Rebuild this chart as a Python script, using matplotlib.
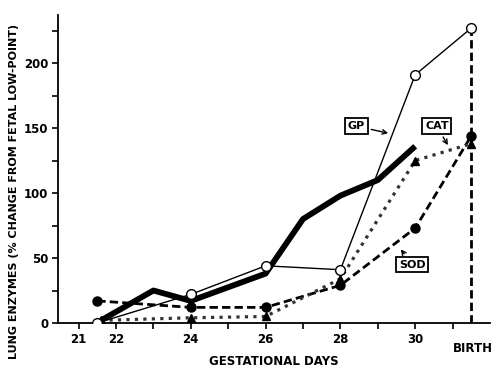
import numpy as np
import matplotlib
matplotlib.use('Agg')
import matplotlib.pyplot as plt

GP_DAYS = [21.5, 24, 26, 28, 30, 31.5]
GP_VALS = [0, 22, 44, 41, 191, 227]

THICK_DAYS = [21.6, 23, 24, 26, 27, 28, 29, 30]
THICK_VALS = [2, 25, 17, 38, 80, 98, 110, 136]

CAT_DAYS = [21.6, 24, 26, 28, 30, 31.5]
CAT_VALS = [2, 4, 5, 34, 125, 138]

SOD_DAYS = [21.5, 24, 26, 28, 30, 31.5]
SOD_VALS = [17, 12, 12, 29, 73, 144]

BIRTH_DAY = 31.5
TICK_DAYS = list(range(21, 32))
TICK_LABELS = {21: '21', 22: '22', 24: '24', 26: '26', 28: '28', 30: '30'}
Y_TICKS = list(range(0, 226, 25))


def main():
    fig = plt.figure(figsize=(5, 3.76), dpi=100)
    ax = fig.add_axes([0.116, 0.141, 0.864, 0.819])

    ax.plot(THICK_DAYS, THICK_VALS, '-', color='black', lw=4.2, solid_capstyle='butt', zorder=3)
    ax.plot(SOD_DAYS, SOD_VALS, '--', color='black', lw=2, marker='o', markersize=6.5,
            dashes=(3, 1.5), zorder=4)
    ax.plot(CAT_DAYS, CAT_VALS, ':', color='#333333', lw=2.3, marker='^', markersize=5.5,
            markerfacecolor='black', markeredgecolor='black', zorder=4)
    ax.plot(GP_DAYS, GP_VALS, '-', color='black', lw=1, marker='o', markersize=7,
            markerfacecolor='white', markeredgecolor='black', markeredgewidth=1, zorder=5)
    ax.plot([BIRTH_DAY, BIRTH_DAY], [0, GP_VALS[-1]], '--', color='black', lw=2,
            dashes=(3, 1.5), zorder=2)

    ax.set_xlim(20.45, 32)
    ax.set_ylim(0, 237)
    for s in ['top', 'right']:
        ax.spines[s].set_visible(False)
    for s in ['left', 'bottom']:
        ax.spines[s].set_linewidth(1.3)

    ax.set_xticks(TICK_DAYS)
    ax.set_xticklabels([TICK_LABELS.get(d, '') for d in TICK_DAYS])
    ax.set_yticks(Y_TICKS)
    ax.set_yticklabels([str(v) if v % 50 == 0 else '' for v in Y_TICKS])
    ax.tick_params(direction='out', length=4, width=1.2, labelsize=8.5, pad=3)
    for lab in ax.get_xticklabels() + ax.get_yticklabels():
        lab.set_fontweight('bold')
    ax.text(BIRTH_DAY + 0.05, -15, 'BIRTH', ha='center', va='top', fontsize=8.5,
            fontweight='bold', clip_on=False)

    ax.set_xlabel('GESTATIONAL DAYS', fontsize=8.5, fontweight='bold', labelpad=7)
    fig.text(0.028, 0.49, 'LUNG ENZYMES (% CHANGE FROM FETAL LOW-POINT)', rotation=90,
             ha='center', va='center', fontsize=8, fontweight='bold')

    box = dict(boxstyle='square,pad=0.25', fc='white', ec='black', lw=1.3)
    arrow = dict(arrowstyle='->', color='black', lw=1)
    ax.annotate('GP', xy=(29.35, 145.6), xytext=(28.43, 151.5), ha='center', va='center',
                fontsize=8, fontweight='bold', bbox=box, arrowprops=arrow, zorder=6)
    ax.annotate('CAT', xy=(30.91, 135), xytext=(30.58, 151.5), ha='center', va='center',
                fontsize=8, fontweight='bold', bbox=box, arrowprops=arrow, zorder=6)
    ax.annotate('SOD', xy=(29.57, 58.4), xytext=(29.92, 45), ha='center', va='center',
                fontsize=8, fontweight='bold', bbox=box, arrowprops=arrow, zorder=6)

    fig.savefig('out.png', dpi=100)


if __name__ == "__main__":
    main()
